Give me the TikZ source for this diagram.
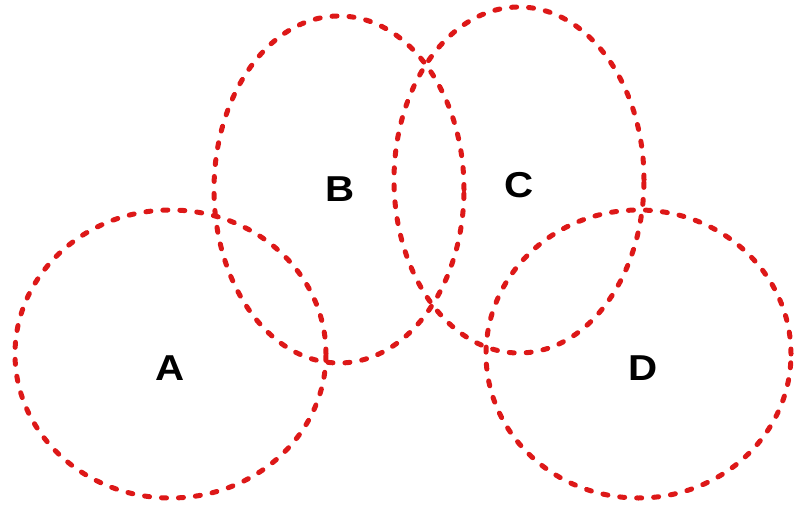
\documentclass[tikz,border=0pt]{standalone}
\usepackage{fontspec}
\setmainfont{Liberation Sans}
\definecolor{ringred}{RGB}{221,24,24}
\begin{document}
\begin{tikzpicture}[x=1pt, y=-1pt,
  ring/.style={draw=ringred, line width=5pt, line cap=round, dash pattern=on 5pt off 12pt},
  tag/.style={font=\bfseries\fontsize{36}{36}\selectfont, text=black, inner sep=0pt, xscale=1.12}]
\useasboundingbox (0,0) rectangle (795,508);
% four dashed rings
\draw[ring] (170.5,354) ellipse [x radius=155.5pt, y radius=144pt];
\draw[ring] (339,189.5) ellipse [x radius=125pt, y radius=173.5pt];
\draw[ring] (519,180) ellipse [x radius=125pt, y radius=173pt];
\draw[ring] (638.5,354) ellipse [x radius=152.5pt, y radius=144pt];
% labels
\node[tag] (lA) at (170,368) {A};
\node[tag] (lB) at (340,189) {B};
\node[tag] (lC) at (519,185) {C};
\node[tag] (lD) at (643,368) {D};
\end{tikzpicture}
\end{document}
